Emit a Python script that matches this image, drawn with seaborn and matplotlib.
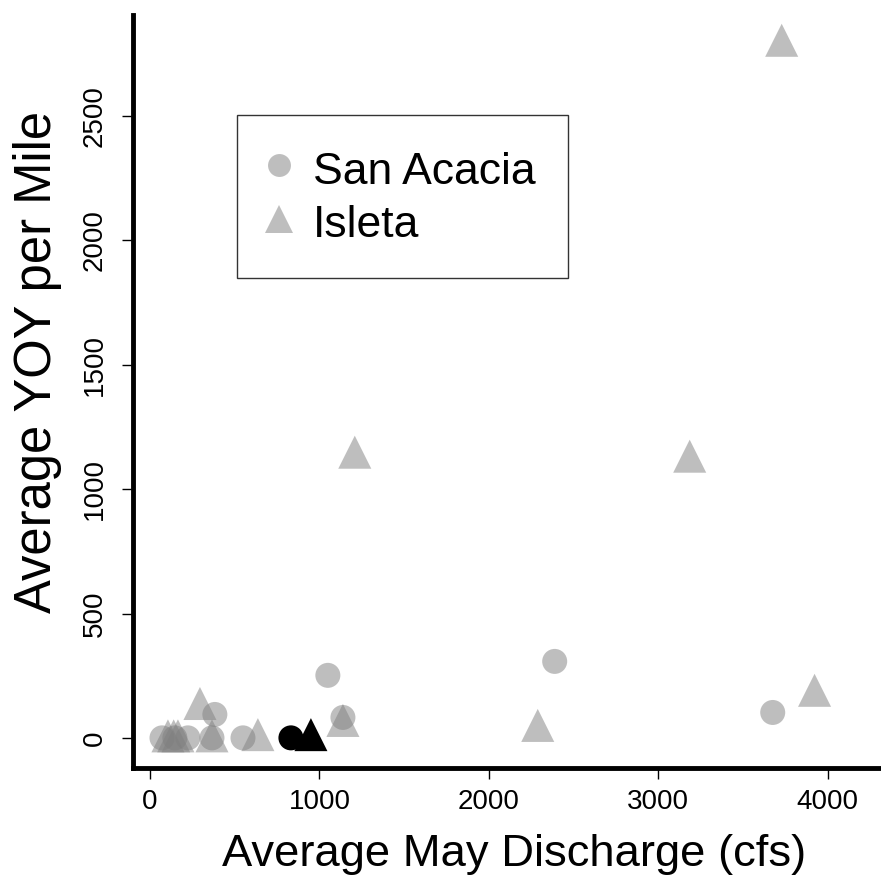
import pandas as pd
import seaborn as sns
import matplotlib.pyplot as plt
from matplotlib.lines import Line2D

# San Acacia (circles) and Isleta (triangles)
sa_x = [71, 147, 224, 366, 383, 549, 1050, 1139, 2389, 3676]
sa_y = [2, 2, 2, 2, 96, 2, 253, 84, 309, 104]
is_x = [106, 140, 165, 295, 366, 637, 1139, 1209, 2289, 3186, 3729, 3923]
is_y = [10, 10, 10, 140, 10, 15, 72, 1149, 52, 1133, 2803, 193]
# highlighted year (black)
hi_x = [832, 950]
hi_y = [2, 15]
hi_site = ['San Acacia', 'Isleta']

sns.set_style('white')
plt.rcParams['font.family'] = ['Liberation Sans', 'DejaVu Sans']
plt.rcParams['text.color'] = 'black'
plt.rcParams['axes.labelcolor'] = 'black'
plt.rcParams['xtick.color'] = 'black'
plt.rcParams['ytick.color'] = 'black'

df = pd.DataFrame({'q': sa_x + is_x, 'yoy': sa_y + is_y,
                   'site': ['San Acacia'] * len(sa_x) + ['Isleta'] * len(is_x)})
hi = pd.DataFrame({'q': hi_x, 'yoy': hi_y, 'site': hi_site})

fig = plt.figure(figsize=(8.81, 8.75), dpi=100)
ax = fig.add_axes([0.151, 0.122, 0.848, 0.861])

mk = {'San Acacia': 'o', 'Isleta': '^'}
sz = {'San Acacia': 324, 'Isleta': 566}
for site in ['San Acacia', 'Isleta']:
    sns.scatterplot(data=df[df.site == site], x='q', y='yoy', marker=mk[site], s=sz[site],
                    color='#7f7f7f', alpha=0.5, edgecolor='none', ax=ax, legend=False)
    sns.scatterplot(data=hi[hi.site == site], x='q', y='yoy', marker=mk[site], s=sz[site],
                    color='black', edgecolor='none', ax=ax, legend=False)

ax.set_xlim(-100, 4310)
ax.set_ylim(-120, 2905)
ax.set_xticks([0, 1000, 2000, 3000, 4000])
ax.set_yticks([0, 500, 1000, 1500, 2000, 2500])
ax.set_yticklabels(['0', '500', '1000', '1500', '2000', '2500'], rotation=90, va='center')
ax.tick_params(axis='x', direction='out', length=8, width=1, labelsize=20, bottom=True, pad=7)
ax.tick_params(axis='y', direction='out', length=8, width=1, labelsize=20, left=True, pad=10)
for s in ['top', 'right']:
    ax.spines[s].set_visible(False)
for s in ['left', 'bottom']:
    ax.spines[s].set_linewidth(3.5)
    ax.spines[s].set_color('black')
ax.set_xlabel('Average May Discharge (cfs)', fontsize=32.7)
ax.set_ylabel('Average YOY per Mile', fontsize=36.5)
ax.xaxis.set_label_coords(0.51, -0.087)
ax.yaxis.set_label_coords(-0.095, 0.539)

handles = [Line2D([], [], marker='o', ls='none', color='#7f7f7f', alpha=0.5, markersize=16.5, markeredgewidth=0),
           Line2D([], [], marker='^', ls='none', color='#7f7f7f', alpha=0.5, markersize=19.5, markeredgewidth=0)]
leg = ax.legend(handles, ['San Acacia', 'Isleta'], loc='upper left', bbox_to_anchor=(0.139, 0.867),
                fontsize=32, frameon=True, fancybox=False, edgecolor='black', borderpad=0.72,
                handlelength=0.45, handleheight=1.1, handletextpad=0.55, labelspacing=0.18, borderaxespad=0)
leg.get_frame().set_linewidth(1)

fig.savefig('out.png', dpi=100, facecolor='white')
